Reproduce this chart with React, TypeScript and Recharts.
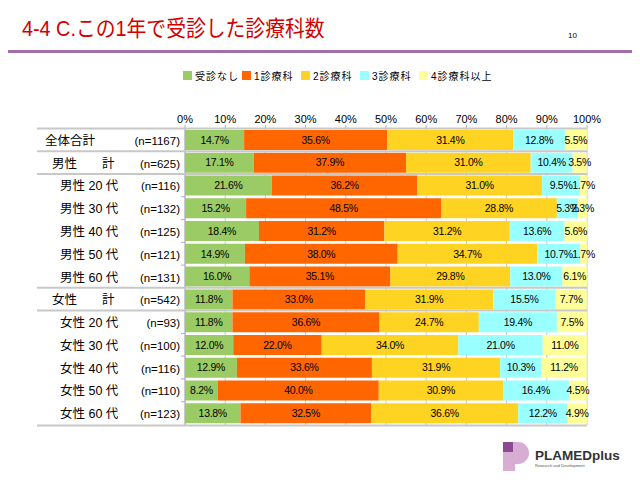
import React from 'react';
import { BarChart, Bar, XAxis, YAxis, CartesianGrid, LabelList, Legend } from 'recharts';

const categories = ['全体合計', '男性　　計', '男性 20 代', '男性 30 代', '男性 40 代', '男性 50 代', '男性 60 代', '女性　　計', '女性 20 代', '女性 30 代', '女性 40 代', '女性 50 代', '女性 60 代'];
const sampleSizes = [1167, 625, 116, 132, 125, 121, 131, 542, 93, 100, 116, 110, 123];
const noVisit = [14.7, 17.1, 21.6, 15.2, 18.4, 14.9, 16.0, 11.8, 11.8, 12.0, 12.9, 8.2, 13.8];
const oneDept = [35.6, 37.9, 36.2, 48.5, 31.2, 38.0, 35.1, 33.0, 36.6, 22.0, 33.6, 40.0, 32.5];
const twoDept = [31.4, 31.0, 31.0, 28.8, 31.2, 34.7, 29.8, 31.9, 24.7, 34.0, 31.9, 30.9, 36.6];
const threeDept = [12.8, 10.4, 9.5, 5.3, 13.6, 10.7, 13.0, 15.5, 19.4, 21.0, 10.3, 16.4, 12.2];
const fourPlus = [5.5, 3.5, 1.7, 2.3, 5.6, 1.7, 6.1, 7.7, 7.5, 11.0, 11.2, 4.5, 4.9];
const seriesNames = ['受診なし', '1診療科', '2診療科', '3診療科', '4診療科以上'];
const xTicks = [0, 10, 20, 30, 40, 50, 60, 70, 80, 90, 100];
const titleText = '4-4 C.この1年で受診した診療科数';
const pageNumber = '10';

const seriesColors = ['#9BCB64', '#FF6600', '#FFD322', '#99FFFF', '#FFFF99'];
const seriesValues = [noVisit, oneDept, twoDept, threeDept, fourPlus];

const data = categories.map((name, i) => {
  const row: any = { name, n: sampleSizes[i] };
  seriesValues.forEach((arr, k) => { row['s' + k] = arr[i]; });
  return row;
});

const W = 640;
const H = 480;
const MARGIN = { top: 95, right: 53, bottom: 55, left: 0 };
const XAXIS_H = 20;
const YAXIS_W = 185;
const PLOT_TOP = MARGIN.top + XAXIS_H;
const PLOT_H = H - PLOT_TOP - MARGIN.bottom;
const BAND = PLOT_H / categories.length;
const RIGHT_X = W - MARGIN.right;
const LINE_LEFT = 37;
const FONT = '"Liberation Sans", "Noto Sans CJK JP", sans-serif';

const isTotal = (i: number) => categories[i] !== undefined && categories[i].includes('計');

function CatTick(props: any) {
  const { y, payload } = props;
  const idx = payload.index ?? props.index ?? categories.indexOf(payload.value);
  const name = payload.value as string;
  const indent = name === '全体合計' ? 45 : name.includes('計') ? 52 : 60;
  const groupStart = isTotal(idx) || isTotal(idx - 1);
  const top = y - BAND / 2;
  const bottom = y + BAND / 2;
  return (
    <g>
      {groupStart ? (
        <line x1={LINE_LEFT} x2={RIGHT_X} y1={top} y2={top} stroke="#c8c8c8" strokeWidth={2} />
      ) : (
        <line x1={181} x2={YAXIS_W} y1={top} y2={top} stroke="#b0b0b0" strokeWidth={1} />
      )}
      {idx === categories.length - 1 && (
        <line x1={LINE_LEFT} x2={RIGHT_X} y1={bottom} y2={bottom} stroke="#c8c8c8" strokeWidth={2} />
      )}
      <text x={indent} y={y} dy={4.5} fontSize={12.5} fill="#000" fontFamily={FONT}>{name}</text>
      <text x={180} y={y} dy={4.5} fontSize={11.5} fill="#000" textAnchor="end" fontFamily={FONT}>
        {'(n=' + sampleSizes[idx] + ')'}
      </text>
    </g>
  );
}

function LegendContent() {
  return (
    <div style={{ display: 'flex', fontFamily: FONT, fontSize: 10, letterSpacing: 1, color: '#000' }}>
      {seriesNames.map((name, i) => (
        <div key={i} style={{ width: i === seriesNames.length - 1 ? 80 : 59, display: 'flex', alignItems: 'center', whiteSpace: 'nowrap' }}>
          <span style={{ display: 'inline-block', width: 9, height: 9, background: seriesColors[i], marginRight: 3 }} />
          <span>{name}</span>
        </div>
      ))}
    </div>
  );
}

export default function App() {
  return (
    <div style={{ position: 'absolute', left: 0, top: 0, width: W, height: H, background: '#fff', fontFamily: FONT }}>
      <div style={{ position: 'absolute', left: 22, top: 15, fontSize: 22, lineHeight: '28px', color: '#D00000', fontFamily: FONT, whiteSpace: 'nowrap', transform: 'scaleX(0.9)', transformOrigin: 'left center' }}>
        {titleText}
      </div>
      <div style={{ position: 'absolute', left: 568, top: 31, fontSize: 8, color: '#000', fontFamily: FONT }}>{pageNumber}</div>
      <div style={{ position: 'absolute', left: 8, top: 50, width: 624, height: 3, background: '#A070A8' }} />
      <BarChart
        width={W}
        height={H}
        data={data}
        layout="vertical"
        margin={MARGIN}
        barSize={20}
      >
        <CartesianGrid horizontal={false} vertical stroke="#c8c8c8" verticalValues={xTicks} />
        <XAxis
          type="number"
          orientation="top"
          domain={[0, 100]}
          ticks={xTicks}
          height={XAXIS_H}
          allowDataOverflow
          axisLine={false}
          tickLine={{ stroke: '#b0b0b0' }}
          tickSize={4}
          tick={{ fontSize: 11, fill: '#000', fontFamily: FONT }}
          tickFormatter={(v: number) => v + '%'}
        />
        <YAxis
          type="category"
          dataKey="name"
          width={YAXIS_W}
          interval={0}
          tickLine={false}
          axisLine={{ stroke: '#b0b0b0' }}
          tick={<CatTick />}
        />
        <Legend
          verticalAlign="top"
          align="left"
          content={<LegendContent />}
          wrapperStyle={{ position: 'absolute', top: 68, left: 183, width: 340, height: 14 }}
        />
        {seriesNames.map((s, k) => (
          <Bar key={s} dataKey={'s' + k} name={s} stackId="a" fill={seriesColors[k]} isAnimationActive={false}>
            <LabelList
              dataKey={'s' + k}
              position="center"
              formatter={(v: any) => Number(v).toFixed(1) + '%'}
              style={{ fontSize: 10.5, fill: '#000', fontFamily: FONT, letterSpacing: -0.3 }}
            />
          </Bar>
        ))}
      </BarChart>
      <svg style={{ position: 'absolute', left: 500, top: 438 }} width={135} height={38}>
        <path d="M3 4 H18 A11 11 0 0 1 18 26 H15 V33 H3 Z" fill="#D7ADD3" />
        <rect x={3} y={4} width={10} height={10} fill="#8B4A92" />
        <text x={35} y={22} fontSize={13.5} fontWeight="bold" fill="#333" fontFamily={FONT}>PLAMEDplus</text>
        <text x={35} y={29} fontSize={4} fill="#555" fontFamily={FONT}>Research and Development</text>
      </svg>
    </div>
  );
}
